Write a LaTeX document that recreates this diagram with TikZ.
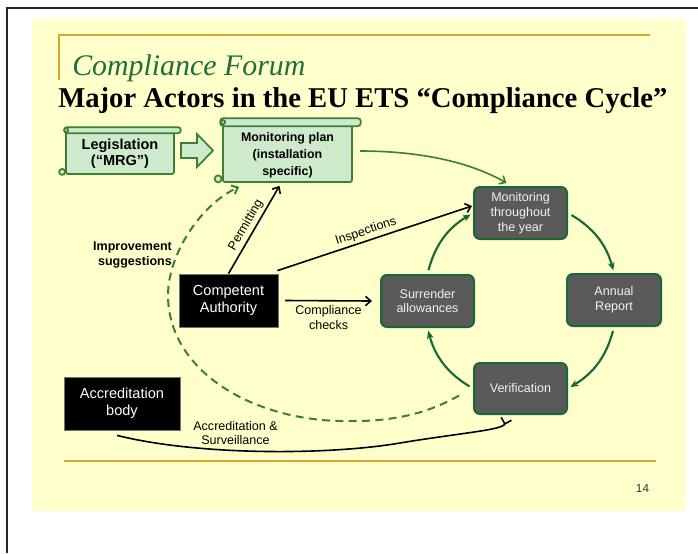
\documentclass[tikz,border=0pt]{standalone}
\usepackage{fontspec}
\setmainfont{Liberation Sans}
\newfontfamily\titlefont{Liberation Serif}
\usetikzlibrary{arrows.meta,calc}

\definecolor{slidebg}{HTML}{FFFFCC}
\definecolor{rulegold}{HTML}{D8A628}
\definecolor{titlegreen}{HTML}{1E6E3C}
\definecolor{scrollfill}{HTML}{CDEACB}
\definecolor{scrolledge}{HTML}{3E7F36}
\definecolor{boxfill}{HTML}{5A5A5A}
\definecolor{boxedge}{HTML}{17693A}
\definecolor{boxtext}{HTML}{F2F2F2}
\definecolor{flowgreen}{HTML}{3B7F35}

\begin{document}
\begin{tikzpicture}[x=0.75pt,y=-0.75pt,
  cycbox/.style={rectangle, rounded corners=4.5pt, draw=boxedge, line width=1.5pt,
    fill=boxfill, text=boxtext, align=center, inner sep=0pt,
    minimum width=69.75pt, minimum height=39pt, font=\fontsize{9.4}{11.2}\selectfont},
  actor/.style={rectangle, fill=black, draw=black!55, line width=0.6pt, text=white,
    align=center, inner sep=0pt, minimum height=39.75pt,
    font=\fontsize{10.9}{12.8}\selectfont},
  scrollbody/.style={rectangle, draw=scrolledge, fill=scrollfill, line width=1.3pt,
    rounded corners=1.5pt, align=center, inner sep=0pt},
  scrollpart/.style={draw=scrolledge, fill=scrollfill, line width=1.3pt},
  lbl/.style={font=\fontsize{9.4}{11}\selectfont, inner sep=2pt},
  blk/.style={draw=black, line width=1.2pt, -{Straight Barb[length=4pt,width=7pt]}},
  cyc/.style={draw=boxedge, line width=1.6pt, shorten <=3pt, shorten >=2pt,
    -{Stealth[length=6pt,width=5pt,inset=1.5pt]}},
  flow/.style={draw=flowgreen, line width=1.2pt, -{Straight Barb[length=4pt,width=7pt]}},
  dashflow/.style={draw=flowgreen, line width=1.5pt, dash pattern=on 6pt off 4pt,
    -{Straight Barb[length=4pt,width=7pt]}},
  accr/.style={draw=black, line width=1.2pt, -{Straight Barb[reversed,length=4pt,width=8pt]}}
]
\useasboundingbox (0,0) rectangle (698,553);

% page frame and slide background
\draw[line width=1.6pt, black!85] (7,553) -- (7,8) -- (698,8);
\fill[slidebg] (32,19) rectangle (686,511);

% gold rules
\draw[rulegold, line width=1.2pt] (59,80) -- (59,35) -- (650,35);
\draw[rulegold, line width=1.4pt] (64,461) -- (656,461);

% titles
\node[anchor=base west, inner sep=0pt, text=titlegreen,
      font=\titlefont\itshape\fontsize{22.4}{26}\selectfont] (forum) at (72,75) {Compliance Forum};
\node[anchor=base west, inner sep=0pt,
      font=\titlefont\bfseries\fontsize{21.5}{25}\selectfont] (heading) at (58,107)
      {Major Actors in the EU ETS “Compliance Cycle”};

% legislation scroll
\node[scrollbody, minimum width=81pt, minimum height=32.25pt] (leg) at (120,152.5) {};
\draw[scrollpart, rounded corners=2.2pt] ($(leg.north west)+(-1,-3)$) rectangle ($(leg.north east)+(6,3)$);
\draw[scrollpart] ($(leg.north west)+(1,0)$) circle[radius=2];
\draw[scrollpart] ($(leg.south west)+(-3,-3)$) circle[radius=3];
\node[font=\bfseries\fontsize{10.9}{12}\selectfont, align=center, inner sep=0pt] (legtxt) at (120,154) {Legislation\\(“MRG”)};

% hollow block arrow
\draw[scrollpart] (181,143) -- (197,143) -- (197,134) -- (213,150.5) -- (197,167)
      -- (197,158) -- (181,158) -- cycle;

% monitoring plan scroll
\node[scrollbody, minimum width=96.75pt, minimum height=43.5pt] (plan) at (287.5,153) {};
\draw[scrollpart, rounded corners=2.5pt] ($(plan.north west)+(-2,-5)$) rectangle ($(plan.north east)+(8,3)$);
\draw[scrollpart] ($(plan.north west)+(1,-1)$) circle[radius=2];
\draw[scrollpart] ($(plan.south west)+(-4,-4)$) circle[radius=3.5];
\node[font=\bfseries\fontsize{9.3}{12.6}\selectfont, align=center, inner sep=0pt] (plantxt) at (287.5,155)
      {Monitoring plan\\(installation\\specific)};

% compliance cycle
\node[cycbox] (mon) at (520.5,213) {Monitoring\\throughout\\the year};
\node[cycbox, minimum width=70.5pt] (ann) at (614,300) {Annual\\Report};
\node[cycbox] (sur) at (427.5,301) {Surrender\\allowances};
\node[cycbox, minimum height=38.25pt] (ver) at (520.5,388.5) {Verification};

\draw[cyc] (mon.east) to[bend left=22] (ann.north);
\draw[cyc] (ann.south) to[bend left=22] (ver.east);
\draw[cyc] (ver.west) to[bend left=22] (sur.south);
\draw[cyc] (sur.north) to[bend left=22] (mon.west);

% actors
\node[actor, minimum width=74.25pt] (ca) at (228.5,300.5) {Competent\\Authority};
\node[actor, minimum width=87pt] (acc) at (122,403.5) {Accreditation\\body};

% plan feeds the monitoring
\draw[flow] ([shift={(7,-2)}]plan.east) .. controls (420,151) and (470,162) .. ([shift={(-14,-3)}]mon.north);

% improvement suggestions (dashed)
\draw[dashflow] ([shift={(-14,7)}]ver.west) .. controls (420,418) and (380,422) .. (340,421)
      .. controls (250,419) and (168,370) .. (168,295)
      .. controls (168,255) and (200,205) .. ([shift={(17,4)}]plan.south west);
\node[font=\bfseries\fontsize{9.4}{10.8}\selectfont, align=right, inner sep=0pt] (impr) at (132.5,255)
      {Improvement\\suggestions};

% competent authority actions
\draw[blk] (ca.north) -- ([shift={(-8,3)}]plan.south)
      node[lbl, midway, sloped, above] (permit) {Permitting};
\draw[blk] ([shift={(-1,-3)}]ca.north east) -- ([shift={(-1,-7)}]mon.west)
      node[lbl, pos=0.47, sloped, above] (insp) {Inspections};
\draw[blk] ([xshift=5]ca.east) -- ([xshift=-6]sur.west)
      node[lbl, midway, below, align=center, inner sep=3pt] (cchk) {Compliance\\checks};

% accreditation and surveillance
\draw[accr] ([shift={(-5,5)}]acc.south) .. controls (200,456) and (330,455) .. (400,443)
      .. controls (460,433) and (503,430) .. ([shift={(-14,3)}]ver.south);
\node[lbl, align=center] (accs) at (235.5,433) {Accreditation \&\\Surveillance};

% page number
\node[font=\fontsize{8.8}{10}\selectfont, text=black!80, inner sep=0pt] (pg) at (642.5,488) {14};
\end{tikzpicture}
\end{document}
